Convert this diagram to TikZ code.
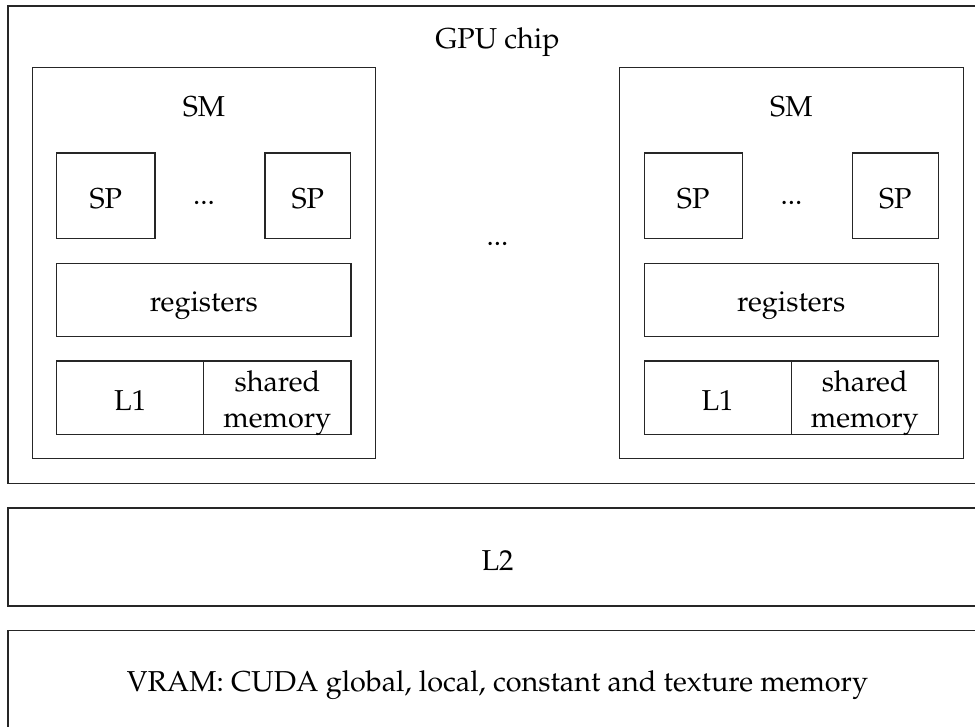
\documentclass[tikz,border=0pt]{standalone}
\usepackage[T1]{fontenc}
\usepackage{mathpazo}
\begin{document}
\begin{tikzpicture}[x=1pt, y=-1pt,
  box/.style={draw=black!85, line width=1.1pt, rectangle, inner sep=0pt, outer sep=0pt},
  lbl/.style={anchor=base, inner sep=0pt, outer sep=0pt, font=\fontsize{28.8}{30}\selectfont}]
\useasboundingbox (0,0) rectangle (975,726);

% chip outline and its title
\node[box, minimum width=979pt, minimum height=477.7pt] (gpu) at (497.5,244.85) {};
\node[lbl] (gputitle) at (497.5,48.3) {GPU chip};

% two streaming multiprocessors
\foreach \dx/\s in {0/a, 587.4/b} {
  \node[box, minimum width=343.4pt, minimum height=390.8pt] (sm\s) at (204+\dx,263.1) {};
  \node[lbl] (smtitle\s) at (204+\dx,116.5) {SM};
  \node[box, minimum width=98.3pt, minimum height=85.3pt] (spfirst\s) at (105.85+\dx,195.65) {};
  \node[lbl] (spfirsttext\s) at (105.85+\dx,208.3) {SP};
  \node[lbl] (spdots\s) at (204+\dx,204.5) {...};
  \node[box, minimum width=85.7pt, minimum height=85.3pt] (splast\s) at (307.85+\dx,195.65) {};
  \node[lbl] (splasttext\s) at (307.85+\dx,208.3) {SP};
  \node[box, minimum width=294.3pt, minimum height=73.4pt] (reg\s) at (203.85+\dx,300) {};
  \node[lbl] (regtext\s) at (203.85+\dx,311.7) {registers};
  \node[box, minimum width=147pt, minimum height=73.5pt] (lone\s) at (130.2+\dx,397.75) {};
  \node[lbl] (lonetext\s) at (130.2+\dx,410.7) {L1};
  \node[box, minimum width=147.3pt, minimum height=73.5pt] (shm\s) at (277.35+\dx,397.75) {};
  \node[lbl] (shmtop\s) at (277.35+\dx,391.7) {shared};
  \node[lbl] (shmbottom\s) at (277.35+\dx,427.3) {memory};
}
\node[lbl] (smdots) at (497.5,245) {...};

% memory levels below the chip
\node[box, minimum width=979pt, minimum height=98pt] (ltwo) at (497.5,557) {};
\node[lbl] (ltwotext) at (497.5,570.7) {L2};
\node[box, minimum width=979pt, minimum height=98pt] (vram) at (497.5,679.3) {};
\node[lbl] (vramtext) at (497.5,691.7) {VRAM: CUDA global, local, constant and texture memory};
\end{tikzpicture}
\end{document}
